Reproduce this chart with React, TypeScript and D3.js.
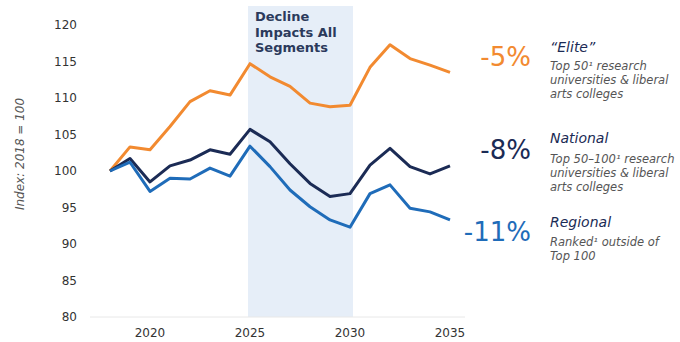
import React from "react";
import * as d3 from "d3";

const years = [2018, 2019, 2020, 2021, 2022, 2023, 2024, 2025, 2026, 2027, 2028, 2029, 2030, 2031, 2032, 2033, 2034, 2035];
const elite = [100, 103.3, 102.9, 106.1, 109.5, 111.0, 110.4, 114.7, 112.9, 111.6, 109.3, 108.8, 109.0, 114.2, 117.3, 115.4, 114.5, 113.5];
const national = [100, 101.7, 98.5, 100.7, 101.5, 102.9, 102.3, 105.7, 104.0, 101.0, 98.3, 96.5, 96.9, 100.8, 103.1, 100.6, 99.6, 100.7];
const regional = [100, 101.2, 97.2, 99.0, 98.9, 100.4, 99.3, 103.4, 100.6, 97.4, 95.1, 93.3, 92.3, 96.9, 98.1, 94.9, 94.4, 93.3];
const yTicks = [80, 85, 90, 95, 100, 105, 110, 115, 120];
const xTicks = [2020, 2025, 2030, 2035];
const bandYears = [2025, 2030];

const seriesInfo = [
  { name: "elite", values: elite, color: "#f28a30", pct: "-5%", title: "\u201CElite\u201D", sub: ["Top 50\u00B9 research", "universities & liberal", "arts colleges"] },
  { name: "national", values: national, color: "#1b2b55", pct: "-8%", title: "National", sub: ["Top 50\u2013100\u00B9 research", "universities & liberal", "arts colleges"] },
  { name: "regional", values: regional, color: "#1f6cb9", pct: "-11%", title: "Regional", sub: ["Ranked\u00B9 outside of", "Top 100"] },
];

export default function App() {
  const W = 680, H = 342;
  const x = d3.scaleLinear().domain([2018, 2035]).range([110, 450]);
  const y = d3.scaleLinear().domain([80, 120]).range([317, 25]);
  const line = d3.line<number>().x((_, i) => x(years[i])).y((v) => y(v));
  const font = "DejaVu Sans, Verdana, sans-serif";

  const pctY = [66, 159, 241];
  const titleY = [52, 143, 227];
  const subY0 = [70, 163, 246];

  return (
    <svg width={W} height={H} style={{ position: "absolute", left: 0, top: 0, background: "#fff" }} fontFamily={font}>
      <rect x={x(bandYears[0]) - 2} y={6} width={x(bandYears[1]) - x(bandYears[0]) + 5} height={317 - 6} fill="#e6eef8" />
      <line x1={90} x2={465} y1={317} y2={317} stroke="#e8e8e8" strokeWidth={1} />
      {yTicks.map((t) => (
        <text key={t} x={77} y={y(t)} dy="0.35em" textAnchor="end" fontSize={12} fill="#333">{t}</text>
      ))}
      {xTicks.map((t) => (
        <text key={t} x={x(t)} y={337} textAnchor="middle" fontSize={12} fill="#333">{t}</text>
      ))}
      <text transform={`translate(24,154) rotate(-90)`} textAnchor="middle" fontSize={12} fontStyle="italic" fill="#555">Index: 2018 = 100</text>
      <g fontWeight="bold" fontSize={13} fill="#2b3a5c">
        <text x={255} y={21}>Decline</text>
        <text x={255} y={37}>Impacts All</text>
        <text x={255} y={52}>Segments</text>
      </g>
      {seriesInfo.map((s) => (
        <path key={s.name} d={line(s.values) || ""} fill="none" stroke={s.color} strokeWidth={3} strokeLinejoin="round" />
      ))}
      {seriesInfo.map((s, i) => (
        <g key={s.name + "lab"}>
          <text x={531} y={pctY[i]} textAnchor="end" fontSize={26} fill={s.color}>{s.pct}</text>
          <text x={550} y={titleY[i]} fontSize={14} fontStyle="italic" fill="#1b2b55">{s.title}</text>
          {s.sub.map((l, j) => (
            <text key={j} x={550} y={subY0[i] + j * 14} fontSize={11.5} fontStyle="italic" fill="#555">{l}</text>
          ))}
        </g>
      ))}
    </svg>
  );
}
